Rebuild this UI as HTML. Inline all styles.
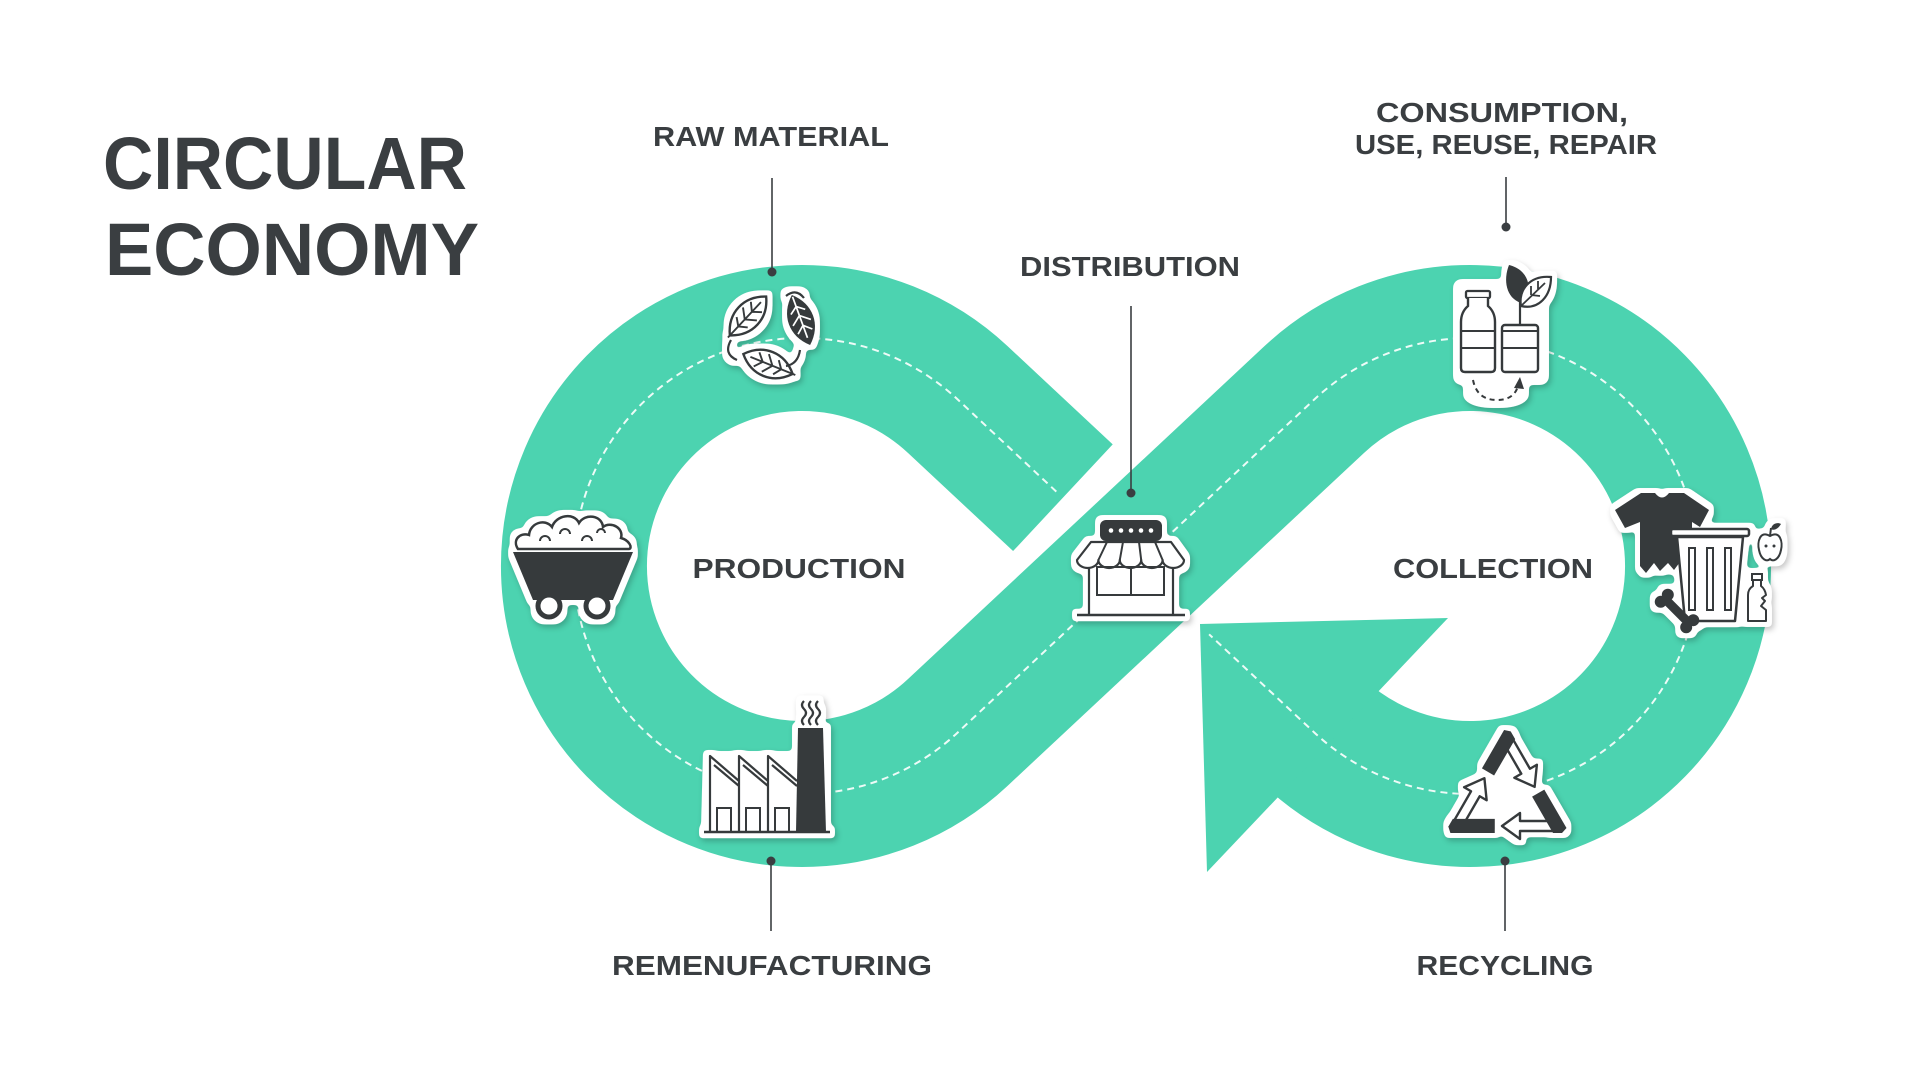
<!DOCTYPE html>
<html>
<head>
<meta charset="utf-8">
<style>
html,body{margin:0;padding:0;background:#fff;}
svg{display:block;}
text{font-family:"Liberation Sans",Arial,sans-serif;font-weight:bold;fill:#3a3e41;}
</style>
</head>
<body>
<svg width="1920" height="1080" viewBox="0 0 1920 1080" xmlns="http://www.w3.org/2000/svg">
<defs>
<filter id="stk" x="-30%" y="-30%" width="160%" height="160%" color-interpolation-filters="sRGB">
  <feMorphology in="SourceAlpha" operator="dilate" radius="5" result="d0"/>
  <feGaussianBlur in="d0" stdDeviation="2" result="d1"/>
  <feComponentTransfer in="d1" result="d">
    <feFuncA type="linear" slope="10" intercept="-4.5"/>
  </feComponentTransfer>
  <feGaussianBlur in="d" stdDeviation="3" result="sb"/>
  <feOffset in="sb" dx="2" dy="3" result="so"/>
  <feColorMatrix in="so" type="matrix" values="0 0 0 0 0  0 0 0 0 0  0 0 0 0 0  0 0 0 0.22 0" result="sh"/>
  <feFlood flood-color="#ffffff" result="wf"/>
  <feComposite in="wf" in2="d" operator="in" result="w"/>
  <feMerge><feMergeNode in="sh"/><feMergeNode in="w"/><feMergeNode in="SourceGraphic"/></feMerge>
</filter>
<g id="recu">
  <polygon points="48,24 13,24 13,16 -5,29 13,42 13,34 50,34" fill="#fff" stroke="#363a3c" stroke-width="2.4" stroke-linejoin="round"/>
  <polygon points="25.1,-0.4 37.3,-7.4 59.5,31 55,36 46,36" fill="#363a3c"/>
</g>
</defs>

<rect width="1920" height="1080" fill="#fff"/>

<!-- Title -->
<text x="103" y="189" font-size="74" textLength="364" lengthAdjust="spacingAndGlyphs">CIRCULAR</text>
<text x="105" y="275" font-size="74" textLength="374" lengthAdjust="spacingAndGlyphs">ECONOMY</text>

<!-- Infinity band -->
<path d="M1062.9,497.7 L957.6,399.4 A228,228 0 1 0 957.6,732.6 L1314.4,399.4 A228,228 0 1 1 1314.4,732.6" fill="none" stroke="#4cd3b0" stroke-width="146" stroke-linecap="butt" stroke-linejoin="round"/>
<polygon points="1200,624 1448,618 1207,872" fill="#4cd3b0"/>

<!-- Dashed centerline -->
<path d="M1056.3,491.6 L957.6,399.4 A228,228 0 1 0 957.6,732.6 L1314.4,399.4 A228,228 0 1 1 1314.4,732.6 L1209.1,634.3" fill="none" stroke="#ffffff" stroke-opacity="0.9" stroke-width="2" stroke-dasharray="7 5"/>

<!-- Leader lines -->
<g stroke="#3a3e41" stroke-width="1.6" fill="none">
  <path d="M772,178 V272"/>
  <path d="M1131,306 V493"/>
  <path d="M1506,177 V227"/>
  <path d="M771,861 V931"/>
  <path d="M1505,861 V931"/>
</g>
<g fill="#3a3e41">
  <circle cx="772" cy="272" r="4.5"/>
  <circle cx="1131" cy="493" r="4.5"/>
  <circle cx="1506" cy="227" r="4.5"/>
  <circle cx="771" cy="861" r="4.5"/>
  <circle cx="1505" cy="861" r="4.5"/>
</g>

<!-- Labels -->
<g font-size="28" text-anchor="middle">
  <text x="771" y="146" textLength="236" lengthAdjust="spacingAndGlyphs">RAW MATERIAL</text>
  <text x="1130" y="276" textLength="220" lengthAdjust="spacingAndGlyphs">DISTRIBUTION</text>
  <text x="1502" y="122" textLength="252" lengthAdjust="spacingAndGlyphs">CONSUMPTION,</text>
  <text x="1506" y="154" textLength="302" lengthAdjust="spacingAndGlyphs">USE, REUSE, REPAIR</text>
  <text x="799" y="578" textLength="213" lengthAdjust="spacingAndGlyphs">PRODUCTION</text>
  <text x="1493" y="578" textLength="200" lengthAdjust="spacingAndGlyphs">COLLECTION</text>
  <text x="772" y="975" textLength="320" lengthAdjust="spacingAndGlyphs">REMENUFACTURING</text>
  <text x="1505" y="975" textLength="177" lengthAdjust="spacingAndGlyphs">RECYCLING</text>
</g>

<!-- Raw material: leaves -->
<g filter="url(#stk)">
  <g transform="translate(748,316) rotate(43) scale(0.95)">
    <path d="M0,-28 C18,-12 18,12 0,28 C-18,12 -18,-12 0,-28Z" fill="#fff" stroke="#363a3c" stroke-width="2.5"/>
    <path d="M0,-20 V31 M0,-6 L8,-13 M0,-6 L-8,-13 M0,5 L10,-3 M0,5 L-10,-3 M0,15 L8,9 M0,15 L-8,9" fill="none" stroke="#363a3c" stroke-width="2"/>
  </g>
  <g transform="translate(801,320) rotate(160) scale(0.95)">
    <path d="M0,-28 C18,-12 18,12 0,28 C-18,12 -18,-12 0,-28Z" fill="#363a3c"/>
    <path d="M0,-20 V26 M0,-6 L8,-13 M0,-6 L-8,-13 M0,5 L10,-3 M0,5 L-10,-3 M0,15 L8,9 M0,15 L-8,9" fill="none" stroke="#fff" stroke-width="1.8"/>
  </g>
  <g transform="translate(768,364) rotate(-68) scale(0.95)">
    <path d="M0,-28 C18,-12 18,12 0,28 C-18,12 -18,-12 0,-28Z" fill="#fff" stroke="#363a3c" stroke-width="2.5"/>
    <path d="M0,-20 V31 M0,-6 L8,-13 M0,-6 L-8,-13 M0,5 L10,-3 M0,5 L-10,-3 M0,15 L8,9 M0,15 L-8,9" fill="none" stroke="#363a3c" stroke-width="2"/>
  </g>
  <path d="M731,340 q-8,14 6,20 M786,296 q10,-8 18,2 M800,350 q-2,14 -14,16" stroke="#363a3c" stroke-width="2.2" fill="none"/>
</g>

<!-- Minecart -->
<g filter="url(#stk)">
  <path d="M518,549 C512,540 520,532 529,535 C530,523 545,518 552,527 C556,515 574,512 579,523 C585,513 602,515 603,527 C611,521 624,528 621,538 C629,540 633,548 629,549 Z" fill="#fff" stroke="#363a3c" stroke-width="2.5"/>
  <path d="M540,541 a5,5 0 0 1 10,0 M560,534 a5,5 0 0 1 10,0 M582,541 a5,5 0 0 1 10,0 M597,533 a4,4 0 0 1 8,0" stroke="#363a3c" stroke-width="2" fill="none"/>
  <polygon points="513,552 633,552 613,600 533,600" fill="#363a3c"/>
  <circle cx="549" cy="606" r="11" fill="#fff" stroke="#363a3c" stroke-width="5"/>
  <circle cx="597" cy="606" r="11" fill="#fff" stroke="#363a3c" stroke-width="5"/>
</g>

<!-- Factory -->
<g filter="url(#stk)">
  <polygon points="708,756 797,756 797,728 826,728 826,832 706,832" fill="#fff"/>
  <polygon points="798,728 823,728 826,832 796,832" fill="#363a3c"/>
  <path d="M804,725 q-4,-4 0,-8 q4,-4 0,-8 q-4,-4 0,-8 M811,725 q-4,-4 0,-8 q4,-4 0,-8 q-4,-4 0,-8 M818,725 q-4,-4 0,-8 q4,-4 0,-8 q-4,-4 0,-8" stroke="#363a3c" stroke-width="2.2" fill="none"/>
  <path d="M710,832 V756 L739,781 M739,832 V756 L768,781 M768,832 V756 L797,781 M714,765 L739,786 M743,765 L768,786 M772,765 L797,786" stroke="#363a3c" stroke-width="2.2" fill="none" stroke-linejoin="round"/>
  <path d="M717,832 V808 H731 V832 M746,832 V808 H760 V832 M775,832 V808 H789 V832" stroke="#363a3c" stroke-width="2" fill="none"/>
  <path d="M704,832 H830" stroke="#363a3c" stroke-width="2.5"/>
</g>

<!-- Store -->
<g filter="url(#stk)">
  <rect x="1089" y="560" width="84" height="56" fill="#fff"/>
  <rect x="1100" y="520" width="62" height="21" rx="6" fill="#363a3c"/>
  <g fill="#fff">
    <circle cx="1111" cy="530.5" r="2.3"/><circle cx="1121" cy="530.5" r="2.3"/><circle cx="1131" cy="530.5" r="2.3"/><circle cx="1141" cy="530.5" r="2.3"/><circle cx="1151" cy="530.5" r="2.3"/>
  </g>
  <path d="M1091,542 H1171 L1184,560 a10.7,8 0 0 1 -21.4,0 a10.7,8 0 0 1 -21.4,0 a10.7,8 0 0 1 -21.4,0 a10.7,8 0 0 1 -21.4,0 a10.7,8 0 0 1 -21.4,0 Z" fill="#fff" stroke="#363a3c" stroke-width="2.2" stroke-linejoin="round"/>
  <path d="M1107,542 L1098.4,560 M1123,542 L1119.8,560 M1139,542 L1141.2,560 M1155,542 L1162.6,560" stroke="#363a3c" stroke-width="2"/>
  <path d="M1089,568 V615 M1173,568 V615" stroke="#363a3c" stroke-width="2.2"/>
  <rect x="1097" y="567" width="67" height="28" fill="none" stroke="#363a3c" stroke-width="2"/>
  <path d="M1131,567 V595" stroke="#363a3c" stroke-width="2"/>
  <path d="M1077,615 H1185" stroke="#363a3c" stroke-width="2.5"/>
</g>

<!-- Bottles (consumption) -->
<g filter="url(#stk)">
  <rect x="1458" y="284" width="86" height="96" rx="8" fill="#fff"/>
  <ellipse cx="1496" cy="390" rx="28" ry="13" fill="#fff"/>
  <rect x="1466" y="291" width="24" height="7" rx="1.5" fill="#fff" stroke="#363a3c" stroke-width="2.3"/>
  <path d="M1468,298 L1468,306 Q1461,312 1461,322 L1461,368 Q1461,372 1465,372 L1491,372 Q1495,372 1495,368 L1495,322 Q1495,312 1488,306 L1488,298" fill="#fff" stroke="#363a3c" stroke-width="2.4"/>
  <path d="M1461,331 H1495 M1461,348 H1495" stroke="#363a3c" stroke-width="2"/>
  <rect x="1502" y="325" width="36" height="47" rx="3" fill="#fff" stroke="#363a3c" stroke-width="2.4"/>
  <path d="M1502,331 H1538 M1502,348 H1538" stroke="#363a3c" stroke-width="2"/>
  <path d="M1520,325 V302" stroke="#363a3c" stroke-width="2.2"/>
  <path d="M1509,265 C1530,270 1534,292 1521,303 C1506,298 1503,280 1509,265 Z" fill="#363a3c"/>
  <path d="M1551,277 C1530,275 1518,290 1521,306 C1539,310 1551,296 1551,277 Z" fill="#fff" stroke="#363a3c" stroke-width="2.2"/>
  <path d="M1521,306 L1545,283 M1531,295 L1531,286 M1538,289 L1538,281 M1531,295 L1540,296" stroke="#363a3c" stroke-width="1.8" fill="none"/>
  <path d="M1473,380 Q1477,400 1497,400 Q1514,400 1518,386" stroke="#363a3c" stroke-width="2" stroke-dasharray="5 4" fill="none"/>
  <polygon points="1514,388 1520,377 1524,389" fill="#363a3c"/>
</g>

<!-- Collection -->
<g filter="url(#stk)">
  <path d="M1641,493 L1655,493 Q1662,502 1669,493 L1684,493 L1709,510 L1700,527 L1692,522 L1692,560 L1680,562 L1674,570 L1668,563 L1660,571 L1654,563 L1646,573 L1640,566 L1640,522 L1625,528 L1615,510 Z" fill="#363a3c"/>
  <path d="M1770,536 C1760,530 1757,542 1759,550 C1761,560 1767,562 1770,559 C1773,562 1779,560 1781,550 C1783,542 1780,530 1770,536 Z" fill="#fff" stroke="#363a3c" stroke-width="2"/>
  <path d="M1770,536 L1771,528" stroke="#363a3c" stroke-width="2"/>
  <path d="M1771,529 C1772,523 1778,522 1781,524 C1778,529 1774,531 1771,529 Z" fill="#363a3c"/>
  <circle cx="1766" cy="546" r="1.5" fill="#363a3c"/><circle cx="1774" cy="546" r="1.5" fill="#363a3c"/>
  <rect x="1752" y="574" width="10" height="6" fill="#fff" stroke="#363a3c" stroke-width="2"/>
  <path d="M1753,580 V586 Q1748,589 1748,595 V621 H1766 V610 L1761,606 L1765,601 L1762,598 L1766,595 Q1765,589 1761,586 V580 Z" fill="#fff" stroke="#363a3c" stroke-width="2" stroke-linejoin="round"/>
  <polygon points="1677,537 1743,537 1735,621 1685,621" fill="#fff" stroke="#363a3c" stroke-width="2.5" stroke-linejoin="round"/>
  <rect x="1671" y="529" width="78" height="7" rx="2" fill="#fff" stroke="#363a3c" stroke-width="2.5"/>
  <rect x="1689" y="548" width="6" height="62" fill="#fff" stroke="#363a3c" stroke-width="2"/>
  <rect x="1707" y="548" width="6" height="62" fill="#fff" stroke="#363a3c" stroke-width="2"/>
  <rect x="1725" y="548" width="6" height="62" fill="#fff" stroke="#363a3c" stroke-width="2"/>
  <g transform="translate(1677,611) rotate(45)" fill="#363a3c">
    <rect x="-17" y="-4.5" width="34" height="9"/>
    <circle cx="-18" cy="-5" r="6"/><circle cx="-18" cy="5" r="6"/>
    <circle cx="18" cy="-5" r="6"/><circle cx="18" cy="5" r="6"/>
  </g>
</g>

<!-- Recycling -->
<g filter="url(#stk)">
  <g transform="translate(1507,797)">
    <polygon points="0,-52 40,18 -40,18" fill="#fff"/>
    <use href="#recu"/>
    <use href="#recu" transform="rotate(120)"/>
    <use href="#recu" transform="rotate(240)"/>
  </g>
</g>

</svg>
</body>
</html>
